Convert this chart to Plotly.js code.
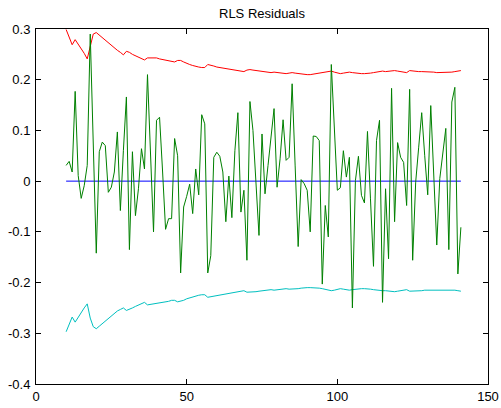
<!DOCTYPE html>
<html><head><meta charset="utf-8">
<script src="https://cdn.plot.ly/plotly-3.0.1.min.js"></script>
<style>html,body{margin:0;padding:0;background:#fff;}#chart{width:501px;height:408px;}</style>
</head><body><div id="chart"></div>
<script>
var xStart = 10;
var residuals = [0.031,0.039,0.018,0.177,0.011,-0.034,-0.009,0.031,0.290,0.070,
-0.142,0.058,0.077,0.070,-0.022,-0.012,0.018,0.097,-0.058,0.060,
0.166,-0.135,0.058,-0.068,-0.015,0.064,0.024,0.210,0.055,-0.100,
0.120,0.126,0.020,-0.095,-0.074,-0.074,0.084,0.050,-0.181,-0.051,
-0.030,-0.006,-0.064,0.024,-0.027,0.131,0.113,-0.181,-0.147,0.047,
0.057,0.049,0.018,-0.080,0.010,-0.072,0.060,0.135,-0.061,-0.018,
-0.156,0.157,0.100,0.000,-0.107,0.093,-0.025,0.031,0.087,0.143,
-0.012,0.044,0.121,0.041,0.047,0.192,0.030,-0.129,0.003,-0.005,
-0.018,-0.100,0.089,0.088,0.080,-0.203,-0.048,-0.110,0.230,0.100,
-0.018,-0.013,0.060,0.008,0.047,-0.250,0.001,0.049,-0.028,-0.043,
0.098,-0.035,-0.168,0.080,0.120,-0.239,-0.015,-0.153,0.183,-0.080,
0.076,0.047,0.037,-0.048,0.181,-0.156,-0.002,0.067,0.135,0.050,
-0.027,0.149,0.011,-0.126,0.005,0.051,0.104,-0.135,0.156,0.185,
-0.183,-0.091];
var upperBound = [0.299,0.284,0.269,0.279,0.270,0.262,0.252,0.241,0.268,0.290,
0.293,0.288,0.283,0.278,0.273,0.267,0.262,0.258,0.254,0.249,
0.256,0.254,0.250,0.247,0.244,0.241,0.239,0.243,0.243,0.243,
0.243,0.241,0.240,0.239,0.238,0.236,0.235,0.238,0.238,0.235,
0.232,0.230,0.228,0.226,0.225,0.224,0.224,0.230,0.229,0.227,
0.225,0.224,0.223,0.222,0.222,0.221,0.220,0.219,0.217,0.216,
0.219,0.220,0.219,0.218,0.217,0.216,0.216,0.215,0.214,0.215,
0.214,0.214,0.213,0.212,0.213,0.214,0.213,0.212,0.211,0.210,
0.210,0.210,0.211,0.212,0.212,0.213,0.214,0.215,0.217,0.215,
0.214,0.212,0.213,0.214,0.215,0.214,0.213,0.212,0.212,0.212,
0.212,0.213,0.214,0.215,0.215,0.217,0.216,0.217,0.218,0.218,
0.217,0.216,0.215,0.214,0.218,0.217,0.217,0.216,0.216,0.216,
0.215,0.216,0.215,0.214,0.214,0.214,0.214,0.214,0.215,0.216,
0.217,0.218];
var lowerBound = [-0.297,-0.282,-0.268,-0.278,-0.268,-0.260,-0.250,-0.242,-0.270,-0.287,
-0.291,-0.286,-0.281,-0.276,-0.271,-0.266,-0.260,-0.256,-0.253,-0.250,
-0.255,-0.253,-0.250,-0.247,-0.244,-0.241,-0.239,-0.244,-0.243,-0.242,
-0.242,-0.241,-0.240,-0.238,-0.237,-0.235,-0.235,-0.238,-0.237,-0.235,
-0.232,-0.230,-0.228,-0.226,-0.225,-0.224,-0.224,-0.229,-0.228,-0.227,
-0.225,-0.224,-0.223,-0.222,-0.222,-0.221,-0.220,-0.219,-0.217,-0.216,
-0.219,-0.219,-0.218,-0.218,-0.217,-0.216,-0.216,-0.215,-0.214,-0.215,
-0.214,-0.214,-0.213,-0.212,-0.213,-0.213,-0.213,-0.212,-0.211,-0.210,
-0.210,-0.210,-0.210,-0.210,-0.211,-0.212,-0.213,-0.215,-0.216,-0.215,
-0.214,-0.212,-0.213,-0.214,-0.215,-0.214,-0.213,-0.212,-0.212,-0.212,
-0.212,-0.213,-0.214,-0.215,-0.215,-0.216,-0.216,-0.217,-0.218,-0.218,
-0.217,-0.216,-0.215,-0.214,-0.217,-0.217,-0.216,-0.216,-0.216,-0.215,
-0.215,-0.215,-0.214,-0.214,-0.214,-0.214,-0.214,-0.214,-0.214,-0.215,
-0.216,-0.217];
var xTickVals = [0, 50, 100, 150];
var xTickText = ['0', '50', '100', '150'];
var yTickVals = [-0.4, -0.3, -0.2, -0.1, 0, 0.1, 0.2, 0.3];
var yTickText = ['-0.4', '-0.3', '-0.2', '-0.1', '0', '0.1', '0.2', '0.3'];

var xs = residuals.map(function(_, i){ return xStart + i; });
var zeroLine = residuals.map(function(){ return 0; });

var traces = [
  {x: xs, y: upperBound, mode: 'lines', line: {color: '#ff0000', width: 1}, hoverinfo: 'skip'},
  {x: xs, y: lowerBound, mode: 'lines', line: {color: '#00bfbf', width: 1}, hoverinfo: 'skip'},
  {x: xs, y: zeroLine, mode: 'lines', line: {color: '#0000ff', width: 1}, hoverinfo: 'skip'},
  {x: xs, y: residuals, mode: 'lines', line: {color: '#008000', width: 1}, hoverinfo: 'skip'}
];
var axisCommon = {
  showgrid: false, zeroline: false, showline: true, linecolor: '#000', linewidth: 1,
  mirror: 'ticks', ticks: 'inside', ticklen: 5, tickcolor: '#000', tickwidth: 1,
  tickfont: {family: 'Liberation Sans, Arial, sans-serif', size: 13, color: '#000'}
};
var layout = {
  width: 501, height: 408,
  margin: {l: 36, r: 13, t: 29, b: 24, pad: 0},
  paper_bgcolor: '#fff', plot_bgcolor: '#fff',
  showlegend: false,
  title: {text: 'RLS Residuals', font: {family: 'Liberation Sans, Arial, sans-serif', size: 13, color: '#000'},
          x: 0.5, xref: 'paper', y: 0.967, yref: 'container', yanchor: 'middle'},
  xaxis: Object.assign({}, axisCommon, {range: [0, 150], tickmode: 'array', tickvals: xTickVals, ticktext: xTickText, ticklabelstandoff: 0}),
  yaxis: Object.assign({}, axisCommon, {range: [-0.4, 0.3], tickmode: 'array', tickvals: yTickVals, ticktext: yTickText, ticklabelstandoff: 2})
};
Plotly.newPlot('chart', traces, layout, {displayModeBar: false, staticPlot: true});
</script></body></html>
